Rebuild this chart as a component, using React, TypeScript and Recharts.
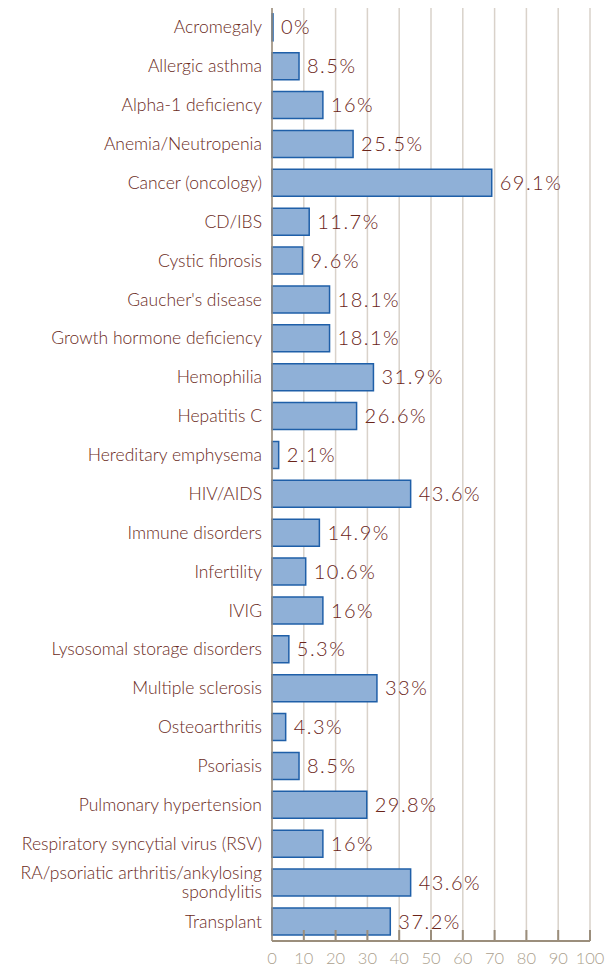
import React from "react";
import { BarChart, Bar, XAxis, YAxis, CartesianGrid, LabelList } from "recharts";

const conditions = [
  "Acromegaly",
  "Allergic asthma",
  "Alpha-1 deficiency",
  "Anemia/Neutropenia",
  "Cancer (oncology)",
  "CD/IBS",
  "Cystic fibrosis",
  "Gaucher's disease",
  "Growth hormone deficiency",
  "Hemophilia",
  "Hepatitis C",
  "Hereditary emphysema",
  "HIV/AIDS",
  "Immune disorders",
  "Infertility",
  "IVIG",
  "Lysosomal storage disorders",
  "Multiple sclerosis",
  "Osteoarthritis",
  "Psoriasis",
  "Pulmonary hypertension",
  "Respiratory syncytial virus (RSV)",
  "RA/psoriatic arthritis/ankylosing spondylitis",
  "Transplant",
];

const percents = [
  0, 8.5, 16, 25.5, 69.1, 11.7, 9.6, 18.1, 18.1, 31.9, 26.6, 2.1, 43.6, 14.9,
  10.6, 16, 5.3, 33, 4.3, 8.5, 29.8, 16, 43.6, 37.2,
];

const xTicks = [0, 10, 20, 30, 40, 50, 60, 70, 80, 90, 100];

const data = conditions.map((name, i) => ({ name, value: percents[i] }));

const FONT = "Lato, 'Open Sans', sans-serif";

const CategoryTick = (props: any) => {
  const { x, y, payload } = props;
  const label: string = payload.value;
  const lines =
    label.length > 40
      ? ["RA/psoriatic arthritis/ankylosing", "spondylitis"]
      : [label];
  return (
    <text
      x={x}
      y={y}
      textAnchor="end"
      fill="#6a2a22"
      fontSize={17.5}
      fontWeight={300}
      fontFamily={FONT}
    >
      {lines.map((l, i) => (
        <tspan key={i} x={x} dy={lines.length === 1 ? 6 : i === 0 ? -4 : 19}>
          {l}
        </tspan>
      ))}
    </text>
  );
};

const PercentTick = (props: any) => {
  const { x, y, payload } = props;
  return (
    <g>
      {payload.value !== 0 && (
        <line x1={x} x2={x} y1={y - 11} y2={y} stroke="#9b8e7c" strokeWidth={2} />
      )}
      <text
        x={x}
        y={y + 23}
        textAnchor="middle"
        fill="#ab9f8e"
        fontSize={16.5}
        fontWeight={300}
        fontFamily={FONT}
      >
        {payload.value}
      </text>
    </g>
  );
};

export default function App() {
  return (
    <div style={{ position: "absolute", left: 0, top: 0, background: "#fff" }}>
      <BarChart
        width={607}
        height={969}
        data={data}
        layout="vertical"
        margin={{ top: 8, right: 17, bottom: 0, left: 0 }}
        barCategoryGap="15%"
      >
        <CartesianGrid
          horizontal={false}
          stroke="#d9d2ca"
          strokeWidth={1.5}
        />
        <XAxis
          type="number"
          domain={[0, 100]}
          ticks={xTicks}
          interval={0}
          tickLine={false}
          tickSize={0}
          tickMargin={0}
          height={28}
          axisLine={{ stroke: "#9b8e7c", strokeWidth: 2 }}
          tick={<PercentTick />}
        />
        <YAxis
          type="category"
          dataKey="name"
          width={272}
          interval={0}
          tickLine={false}
          tickSize={0}
          tickMargin={10}
          axisLine={{ stroke: "#9b8e7c", strokeWidth: 1.5 }}
          tick={<CategoryTick />}
        />
        <Bar
          dataKey="value"
          fill="#8fb0d7"
          stroke="#1f5fa8"
          strokeWidth={1.5}
          minPointSize={1}
          isAnimationActive={false}
        >
          <LabelList
            dataKey="value"
            position="right"
            offset={8}
            formatter={(v: any) => `${v}%`}
            fill="#6a2418"
            fontSize={20}
            fontWeight={300}
            fontFamily={FONT}
            letterSpacing={1.5}
          />
        </Bar>
      </BarChart>
    </div>
  );
}
